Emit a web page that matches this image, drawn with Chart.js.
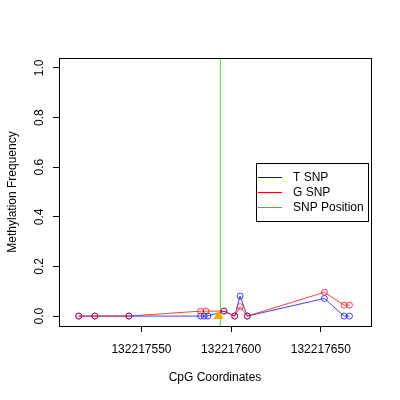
<!DOCTYPE html>
<html lang="en">
<head>
    <meta charset="UTF-8">
    <title>Methylation Frequency by CpG Coordinate</title>
    <script src="https://cdn.jsdelivr.net/npm/chart.js"></script>
    <style>
        body { margin: 0; background: #fff; }
    </style>
</head>
<body>
    <canvas id="methChart" width="400" height="400"></canvas>

    <script>
        // CpG positions and methylation values
        const tPos  = [132217515, 132217524, 132217543, 132217583, 132217585, 132217587, 132217596, 132217602, 132217605, 132217609, 132217652, 132217663, 132217666];
        const tMeth = [0, 0, 0, 0, 0, 0, 0.02, 0, 0.081, 0, 0.071, 0, 0];
        const gPos  = [132217515, 132217524, 132217543, 132217583, 132217586, 132217596, 132217602, 132217605, 132217609, 132217652, 132217663, 132217666];
        const gMeth = [0, 0, 0, 0.02, 0.02, 0.02, 0, 0.038, 0, 0.096, 0.044, 0.044];
        const snpPos = 132217594;
        const snpMark = 132217593;

        const xTicks = [132217550, 132217600, 132217650];
        const yTicks = [0, 0.2, 0.4, 0.6, 0.8, 1.0];
        const xMin = 132217504, xMax = 132217678;
        const yMin = -0.04, yMax = 1.04;

        const blue = 'rgba(0,0,255,0.75)';
        const red = 'rgba(255,0,0,0.75)';
        const green = 'rgba(0,230,0,0.8)';

        const legendItems = [
            { label: 'T SNP', color: '#0000ff' },
            { label: 'G SNP', color: '#ff0000' },
            { label: 'SNP Position', color: '#00e000' }
        ];

        Chart.defaults.font.family = '"Liberation Sans", Arial, sans-serif';
        Chart.defaults.font.size = 12;
        Chart.defaults.color = '#000';

        // box round the plot plus the legend in the top-right
        const boxAndLegend = {
            id: 'boxAndLegend',
            afterDraw(chart) {
                const ctx = chart.ctx;
                const a = chart.chartArea;
                ctx.save();
                ctx.strokeStyle = '#000';
                ctx.lineWidth = 1;
                ctx.strokeRect(Math.round(a.left) + 0.5, Math.round(a.top) + 0.5,
                    Math.round(a.right - a.left), Math.round(a.bottom - a.top));

                const lx = 256, ly = 163, lw = 112, lh = 58;
                ctx.fillStyle = '#fff';
                ctx.fillRect(lx, ly, lw, lh);
                ctx.strokeRect(lx + 0.5, ly + 0.5, lw, lh);
                ctx.font = '12px "Liberation Sans", Arial, sans-serif';
                ctx.textBaseline = 'middle';
                legendItems.forEach((it, i) => {
                    const y = ly + 14.5 + i * 15;
                    ctx.beginPath();
                    ctx.strokeStyle = it.color;
                    ctx.moveTo(lx + 2, y);
                    ctx.lineTo(lx + 26, y);
                    ctx.stroke();
                    ctx.fillStyle = '#000';
                    ctx.fillText(it.label, lx + 37, y);
                });
                ctx.restore();
            }
        };

        const ctx = document.getElementById('methChart').getContext('2d');
        new Chart(ctx, {
            type: 'line',
            data: {
                datasets: [
                    {
                        type: 'scatter',
                        label: 'SNP',
                        data: [{ x: snpMark, y: 0 }],
                        pointStyle: 'triangle',
                        pointRadius: 5,
                        backgroundColor: '#FFA500',
                        borderColor: '#FFA500'
                    },
                    {
                        label: 'G SNP',
                        data: gPos.map((x, i) => ({ x: x, y: gMeth[i] })),
                        borderColor: red,
                        backgroundColor: 'rgba(0,0,0,0)',
                        borderWidth: 1,
                        pointRadius: 3,
                        pointBorderWidth: 1,
                        tension: 0
                    },
                    {
                        label: 'T SNP',
                        data: tPos.map((x, i) => ({ x: x, y: tMeth[i] })),
                        borderColor: blue,
                        backgroundColor: 'rgba(0,0,0,0)',
                        borderWidth: 1,
                        pointRadius: 3,
                        pointBorderWidth: 1,
                        tension: 0
                    },
                    {
                        label: 'SNP Position',
                        data: [{ x: snpPos, y: yMin }, { x: snpPos, y: yMax }],
                        borderColor: green,
                        borderWidth: 1,
                        pointRadius: 0
                    }
                ]
            },
            options: {
                responsive: false,
                animation: false,
                devicePixelRatio: 1,
                layout: { padding: { top: 58, right: 29, left: 0, bottom: 0 } },
                plugins: { legend: { display: false }, tooltip: { enabled: false } },
                scales: {
                    x: {
                        type: 'linear',
                        min: xMin,
                        max: xMax,
                        afterBuildTicks: s => { s.ticks = xTicks.map(v => ({ value: v })); },
                        afterFit: s => { s.height = 74; },
                        grid: { drawOnChartArea: false, drawTicks: true, tickLength: 6, color: '#000' },
                        border: { display: false },
                        ticks: { padding: 10, maxRotation: 0, callback: v => String(v) },
                        title: { display: true, text: 'CpG Coordinates', padding: { top: 0, bottom: 15 } }
                    },
                    y: {
                        type: 'linear',
                        min: yMin,
                        max: yMax,
                        afterBuildTicks: s => { s.ticks = yTicks.map(v => ({ value: v })); },
                        afterFit: s => { s.width = 59; },
                        grid: { drawOnChartArea: false, drawTicks: true, tickLength: 6, color: '#000' },
                        border: { display: false },
                        ticks: { padding: 5, minRotation: 90, maxRotation: 90, crossAlign: 'center', callback: v => v.toFixed(1) },
                        title: { display: true, text: 'Methylation Frequency', padding: { top: 5, bottom: 0 } }
                    }
                }
            },
            plugins: [boxAndLegend]
        });
    </script>
</body>
</html>
